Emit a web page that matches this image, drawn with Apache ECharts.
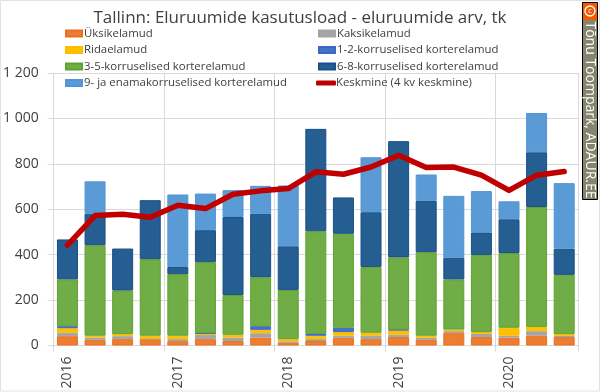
<!DOCTYPE html>
<html><head><meta charset="utf-8">
<script src="https://cdn.jsdelivr.net/npm/echarts@6/dist/echarts.min.js"></script>
<style>html,body{margin:0;padding:0;background:#fff}#c{width:600px;height:392px}</style>
</head><body><div id="c"></div>
<script>
const categories = ['2016 I','2016 II','2016 III','2016 IV','2017 I','2017 II','2017 III','2017 IV','2018 I','2018 II','2018 III','2018 IV','2019 I','2019 II','2019 III','2019 IV','2020 I','2020 II','2020 III'];
const yksikelamud = [41,25,28,28,19,28,20,35,12,20,34,28,37,25,56,37,35,43,37];
const kaksikelamud = [15,10,13,2,9,19,15,19,6,8,9,15,10,9,7,14,8,20,6];
const ridaelamud = [20,8,9,13,15,6,12,15,10,15,16,13,20,9,7,8,35,19,7];
const korrus12 = [9,0,0,0,0,1,0,16,0,8,19,0,3,0,0,0,0,0,0];
const korrus35 = [206,399,192,337,271,313,175,216,216,452,414,290,318,368,221,340,329,528,261];
const korrus68 = [176,138,185,260,32,141,344,279,193,451,160,241,512,226,95,99,149,241,116];
const korrus9 = [0,143,0,0,319,161,118,123,268,0,0,242,0,116,273,182,79,173,288];
const keskmine = [442,572,578,565,618,603,666,681,691,765,754,786,838,784,786,750,683,750,766];
const titleText = 'Tallinn: Eluruumide kasutusload - eluruumide arv, tk';
const credit = 'Tõnu Toompark, ADAUR.EE';

const FONT = '"Open Sans", "Noto Sans", sans-serif';
const bar = (name, data, color, border) => ({
  name, type:'bar', stack:'k', data:data.map(v => v === 0 ? null : v), barWidth:21,
  itemStyle:{color, borderColor:border, borderWidth:1}
});
const legendText = {color:'#404040', fontSize:11.4, lineHeight:13, fontFamily:FONT, padding:[0,0,0,-3]};
const legendBase = {orient:'vertical', itemWidth:16, itemHeight:6, itemGap:3.5, padding:0, textStyle:legendText, selectedMode:false, icon:'rect'};

const chart = echarts.init(document.getElementById('c'), null, {renderer:'canvas'});
chart.setOption({
  animation:false,
  backgroundColor:'#fff',
  title:{text:titleText, left:300, textAlign:'center', top:10, padding:0,
    textStyle:{fontFamily:FONT, fontWeight:'normal', fontSize:17, color:'#404040'}},
  legend:[
    Object.assign({}, legendBase, {left:65, top:27, data:['Üksikelamud','Ridaelamud','3-5-korruselised korterelamud','9- ja enamakorruselised korterelamud']}),
    Object.assign({}, legendBase, {left:318, top:27, data:['Kaksikelamud','1-2-korruselised korterelamud','6-8-korruselised korterelamud']}),
    Object.assign({}, legendBase, {left:316, top:76.5, itemWidth:20, itemHeight:5, icon:'roundRect', itemStyle:{color:'#c00000'},
      textStyle:Object.assign({}, legendText, {padding:[0,0,0,-5]}), data:['Keskmine (4 kv keskmine)']})
  ],
  grid:{left:53.5, right:22, top:73, bottom:46.5},
  xAxis:{type:'category', data:categories, boundaryGap:true,
    axisLine:{lineStyle:{color:'#d9d9d9'}},
    axisTick:{show:true, alignWithLabel:false, interval:3, length:6, lineStyle:{color:'#d9d9d9'}},
    splitLine:{show:true, interval:3, lineStyle:{color:'#d9d9d9'}},
    axisLabel:{interval:3, rotate:90, margin:11, color:'#404040', fontSize:14, fontFamily:FONT,
      formatter:v=>v.slice(0,4)}},
  yAxis:{type:'value', min:0, max:1200, interval:200,
    axisLine:{show:false},
    axisTick:{show:true, length:6, lineStyle:{color:'#d9d9d9'}},
    splitLine:{lineStyle:{color:'#d9d9d9'}},
    axisLabel:{margin:15, color:'#404040', fontSize:14, fontFamily:FONT,
      formatter:v=>v>=1000?Math.floor(v/1000)+' '+String(v%1000).padStart(3,'0'):String(v)}},
  series:[
    bar('Üksikelamud', yksikelamud, '#ED7D31', '#ea6f20'),
    bar('Kaksikelamud', kaksikelamud, '#A5A5A5', '#a3a3a3'),
    bar('Ridaelamud', ridaelamud, '#FFC000', '#fdbc00'),
    bar('1-2-korruselised korterelamud', korrus12, '#4472C4', '#3a68c2'),
    bar('3-5-korruselised korterelamud', korrus35, '#70AD47', '#5fa32f'),
    bar('6-8-korruselised korterelamud', korrus68, '#255E91', '#1a4f88'),
    bar('9- ja enamakorruselised korterelamud', korrus9, '#5B9BD5', '#5295d6'),
    {name:'Keskmine (4 kv keskmine)', type:'line', data:keskmine, symbol:'none', z:10,
      itemStyle:{color:'#c00000'},
      lineStyle:{color:'#c00000', width:5.5, cap:'round', join:'round'}}
  ],
  graphic:[
    {type:'rect', silent:true, shape:{x:0.5,y:0.5,width:599,height:390.5}, style:{fill:'none',stroke:'#e2e2e2',lineWidth:1}},
    {type:'rect', shape:{x:582.5,y:2.5,width:15,height:197}, style:{fill:'#85856f',stroke:'#000',lineWidth:1}},
    {type:'rect', shape:{x:583,y:3,width:14,height:17}, style:{fill:'#f15a00'}},
    {type:'circle', shape:{cx:590,cy:11,r:5}, style:{fill:'none',stroke:'#fff',lineWidth:1.3}},
    {type:'text', x:590, y:11, style:{text:'c', fill:'#fff', fontSize:8, fontFamily:FONT, align:'center', verticalAlign:'middle'}},
    {type:'text', x:590, y:110, rotation:-Math.PI/2, style:{text:credit, fill:'#fff', fontSize:14, fontFamily:FONT, align:'center', verticalAlign:'middle'}}
  ]
});
</script></body></html>
